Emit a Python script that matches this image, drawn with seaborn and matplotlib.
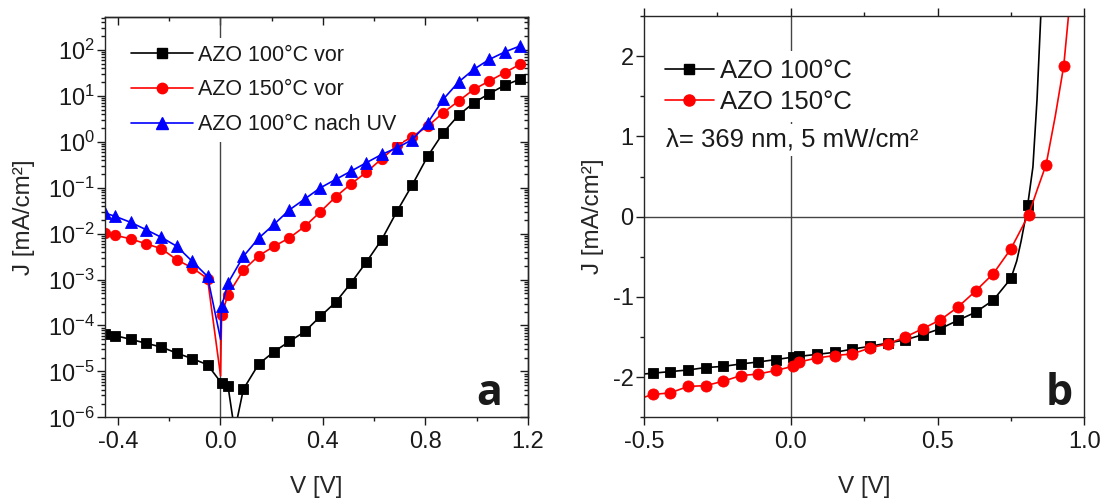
import matplotlib
matplotlib.use("Agg")
import matplotlib.pyplot as plt
from matplotlib.lines import Line2D
from matplotlib.ticker import MultipleLocator, LogLocator, NullFormatter, FormatStrFormatter, LogFormatterMathtext
import numpy as np
import pandas as pd
import seaborn as sns

# ---- panel a: J-V in the dark, log scale ----
v_a = [-0.45, -0.41, -0.35, -0.29, -0.23, -0.17, -0.11, -0.05, 0.005, 0.03, 0.09, 0.15,
       0.21, 0.27, 0.33, 0.39, 0.45, 0.51, 0.57, 0.63, 0.69, 0.75, 0.81, 0.87, 0.93,
       0.99, 1.05, 1.11, 1.17]
j_100_vor = [6.5e-5, 6.0e-5, 5.0e-5, 4.1e-5, 3.4e-5, 2.5e-5, 1.9e-5, 1.4e-5, 5.5e-6, 4.8e-6,
             4.1e-6, 1.45e-5, 2.7e-5, 4.5e-5, 7.4e-5, 1.57e-4, 3.2e-4, 8.4e-4, 2.4e-3, 7.4e-3,
             3.1e-2, 0.117, 0.49, 1.57, 3.8, 7.1, 11.2, 17, 23]
j_150_vor = [1.03e-2, 9.2e-3, 7.7e-3, 6.0e-3, 4.7e-3, 2.7e-3, 1.8e-3, 1.05e-3, 1.7e-4, 4.7e-4,
             1.6e-3, 3.3e-3, 5.3e-3, 8.1e-3, 1.44e-2, 2.97e-2, 6.3e-2, 0.121, 0.217, 0.427,
             0.83, 1.3, 2.19, 4.3, 7.7, 13.9, 21, 32, 48.6]
j_100_uv = [2.8e-2, 2.38e-2, 1.76e-2, 1.22e-2, 8.3e-3, 5.3e-3, 2.5e-3, 1.17e-3, 2.6e-4, 8.4e-4,
            3.2e-3, 8.0e-3, 1.6e-2, 3.3e-2, 5.7e-2, 9.9e-2, 0.151, 0.229, 0.35, 0.53,
            0.74, 1.12, 2.6, 8.4, 20, 38, 62, 90, 122]
# sign-change dips (line only, no marker)
dip_v_100, dip_j_100 = [0.056], [5e-7]
dip_v_150, dip_j_150 = [0.001], [8e-6]
dip_v_uv, dip_j_uv = [0.001], [5e-5]

# ---- panel b: J-V under illumination ----
v_b_100 = [-0.47, -0.41, -0.35, -0.29, -0.23, -0.17, -0.11, -0.05, 0.007, 0.029, 0.09, 0.15,
           0.21, 0.27, 0.33, 0.39, 0.45, 0.51, 0.57, 0.63, 0.69, 0.75, 0.807]
jb_100 = [-1.95, -1.93, -1.91, -1.88, -1.865, -1.835, -1.81, -1.78, -1.75, -1.74, -1.715, -1.69,
          -1.65, -1.615, -1.575, -1.535, -1.47, -1.395, -1.29, -1.19, -1.04, -0.77, 0.14]
v_b_150 = [-0.47, -0.41, -0.35, -0.29, -0.23, -0.17, -0.11, -0.05, 0.007, 0.029, 0.09, 0.15,
           0.21, 0.27, 0.33, 0.39, 0.45, 0.51, 0.57, 0.63, 0.69, 0.75, 0.81, 0.87, 0.93]
jb_150 = [-2.215, -2.195, -2.115, -2.105, -2.05, -1.98, -1.96, -1.915, -1.865, -1.81, -1.76, -1.73,
          -1.71, -1.635, -1.585, -1.5, -1.395, -1.285, -1.125, -0.925, -0.71, -0.40, 0.02, 0.65, 1.88]
# measured points between markers (line only)
line_v_100, line_j_100 = [-0.5, 0.77, 0.785, 0.798, 0.825, 0.839, 0.853], [-1.96, -0.55, -0.30, -0.05, 0.62, 1.46, 2.6]
line_v_150, line_j_150 = [-0.5, 0.839, 0.901, 0.95], [-2.25, 0.33, 1.25, 2.65]

labels_a = ["AZO 100°C vor", "AZO 150°C vor", "AZO 100°C nach UV"]
labels_b = ["AZO 100°C", "AZO 150°C"]

sns.set_style("ticks")
plt.rcParams["font.family"] = ["Liberation Sans", "DejaVu Sans"]
plt.rcParams["mathtext.default"] = "regular"
plt.rcParams["axes.unicode_minus"] = False
plt.rcParams["axes.linewidth"] = 1.0
plt.rcParams["text.color"] = "#1a1a1a"
plt.rcParams["xtick.color"] = "#1a1a1a"
plt.rcParams["ytick.color"] = "#1a1a1a"


def curve(ax, v, j, v_line, j_line, color, marker, ms):
    df = pd.DataFrame({"V": list(v) + list(v_line), "J": list(j) + list(j_line),
                       "mark": [True] * len(v) + [False] * len(v_line)})
    df = df.sort_values("V").reset_index(drop=True)
    sns.lineplot(data=df, x="V", y="J", ax=ax, color=color, lw=1.2, marker=marker,
                 markersize=ms, markevery=df["mark"].tolist(), markeredgecolor=color,
                 markeredgewidth=0.6, errorbar=None, sort=False, legend=False)


def ticks(ax):
    ax.tick_params(which="major", length=5.5, width=1.0, labelsize=17, pad=4)
    ax.tick_params(which="minor", length=3, width=1.0)


fig = plt.figure(figsize=(11.08, 5.01), dpi=100)

# panel a
ax1 = fig.add_axes([0.0948, 0.167, 0.3815, 0.799])
ax1.set_yscale("log")
ax1.axvline(0, color="#444444", lw=1.0, zorder=1)
curve(ax1, v_a, j_100_vor, dip_v_100, dip_j_100, "black", "s", 7)
curve(ax1, v_a, j_150_vor, dip_v_150, dip_j_150, "#ff0000", "o", 7.5)
curve(ax1, v_a, j_100_uv, dip_v_uv, dip_j_uv, "#0000ff", "^", 8.5)
ax1.set_xlim(-0.45, 1.2)
ax1.set_ylim(1e-6, 5.2e2)
ax1.xaxis.set_major_locator(MultipleLocator(0.4))
ax1.xaxis.set_minor_locator(MultipleLocator(0.2))
ax1.xaxis.set_major_formatter(FormatStrFormatter("%.1f"))
ax1.yaxis.set_major_locator(LogLocator(base=10, numticks=20))
ax1.yaxis.set_minor_locator(LogLocator(base=10, subs=np.arange(2, 10), numticks=20))
ax1.yaxis.set_minor_formatter(NullFormatter())
ax1.yaxis.set_major_formatter(LogFormatterMathtext())
ax1.tick_params(which="both", direction="out", top=False, right=False)
ticks(ax1)
ax1.tick_params(axis="y", pad=2)
top1 = ax1.secondary_xaxis("top")
top1.xaxis.set_major_locator(MultipleLocator(0.4))
top1.xaxis.set_minor_locator(MultipleLocator(0.2))
top1.tick_params(which="both", direction="in", labeltop=False)
ticks(top1)
right1 = ax1.secondary_yaxis("right")
right1.yaxis.set_major_locator(LogLocator(base=10, numticks=20))
right1.yaxis.set_minor_locator(LogLocator(base=10, subs=np.arange(2, 10), numticks=20))
right1.tick_params(which="both", direction="in", labelright=False)
ticks(right1)
ax1.set_xlabel("V [V]", fontsize=17.5, labelpad=17)
ax1.set_ylabel("J [mA/cm²]", fontsize=17.5, labelpad=9)
handles_a = [Line2D([], [], color="black", marker="s", ms=7, lw=1.2),
             Line2D([], [], color="#ff0000", marker="o", ms=7.5, lw=1.2),
             Line2D([], [], color="#0000ff", marker="^", ms=8.5, lw=1.2)]
ax1.legend(handles_a, labels_a, loc="upper left", bbox_to_anchor=(0.046, 0.947),
           borderaxespad=0, fontsize=15.5, handlelength=2.88, handletextpad=0.23,
           labelspacing=0.64, borderpad=0.3, frameon=True, fancybox=False,
           edgecolor="none", facecolor="white", framealpha=1)
ax1.text(0.94, 0.031, "a", transform=ax1.transAxes, ha="right", va="baseline",
         fontsize=31, fontweight="bold", family=["Open Sans", "DejaVu Sans"])

# panel b
ax2 = fig.add_axes([0.5812, 0.167, 0.3974, 0.801])
ax2.axvline(0, color="#444444", lw=1.0, zorder=1)
ax2.axhline(0, color="#444444", lw=1.0, zorder=1)
curve(ax2, v_b_100, jb_100, line_v_100, line_j_100, "black", "s", 7)
curve(ax2, v_b_150, jb_150, line_v_150, line_j_150, "#ff0000", "o", 8)
ax2.set_xlim(-0.5, 1.0)
ax2.set_ylim(-2.5, 2.5)
ax2.xaxis.set_major_locator(MultipleLocator(0.5))
ax2.xaxis.set_minor_locator(MultipleLocator(0.25))
ax2.xaxis.set_major_formatter(FormatStrFormatter("%.1f"))
ax2.yaxis.set_major_locator(MultipleLocator(1))
ax2.yaxis.set_minor_locator(MultipleLocator(0.5))
ax2.yaxis.set_major_formatter(FormatStrFormatter("%d"))
ax2.tick_params(which="both", direction="out", top=True, right=False)
ticks(ax2)
ax2.tick_params(axis="y", pad=2)
ax2.set_xlabel("V [V]", fontsize=17.5, labelpad=17)
ax2.set_ylabel("J [mA/cm²]", fontsize=17.5, labelpad=6)
handles_b = [Line2D([], [], color="black", marker="s", ms=7, lw=1.2),
             Line2D([], [], color="#ff0000", marker="o", ms=8, lw=1.2)]
ax2.legend(handles_b, labels_b, loc="upper left", bbox_to_anchor=(0.030, 0.913),
           borderaxespad=0, fontsize=18.5, handlelength=1.9, handletextpad=0.26,
           labelspacing=0.29, borderpad=0.3, frameon=True, fancybox=False,
           edgecolor="none", facecolor="white", framealpha=1)
ax2.text(0.05, 0.674, "λ= 369 nm, 5 mW/cm²", transform=ax2.transAxes, ha="left",
         va="baseline", fontsize=18.5,
         bbox=dict(facecolor="white", edgecolor="none", pad=3))
ax2.text(0.973, 0.031, "b", transform=ax2.transAxes, ha="right", va="baseline",
         fontsize=31, fontweight="bold", family=["Open Sans", "DejaVu Sans"])

fig.savefig("out.png", dpi=100)
